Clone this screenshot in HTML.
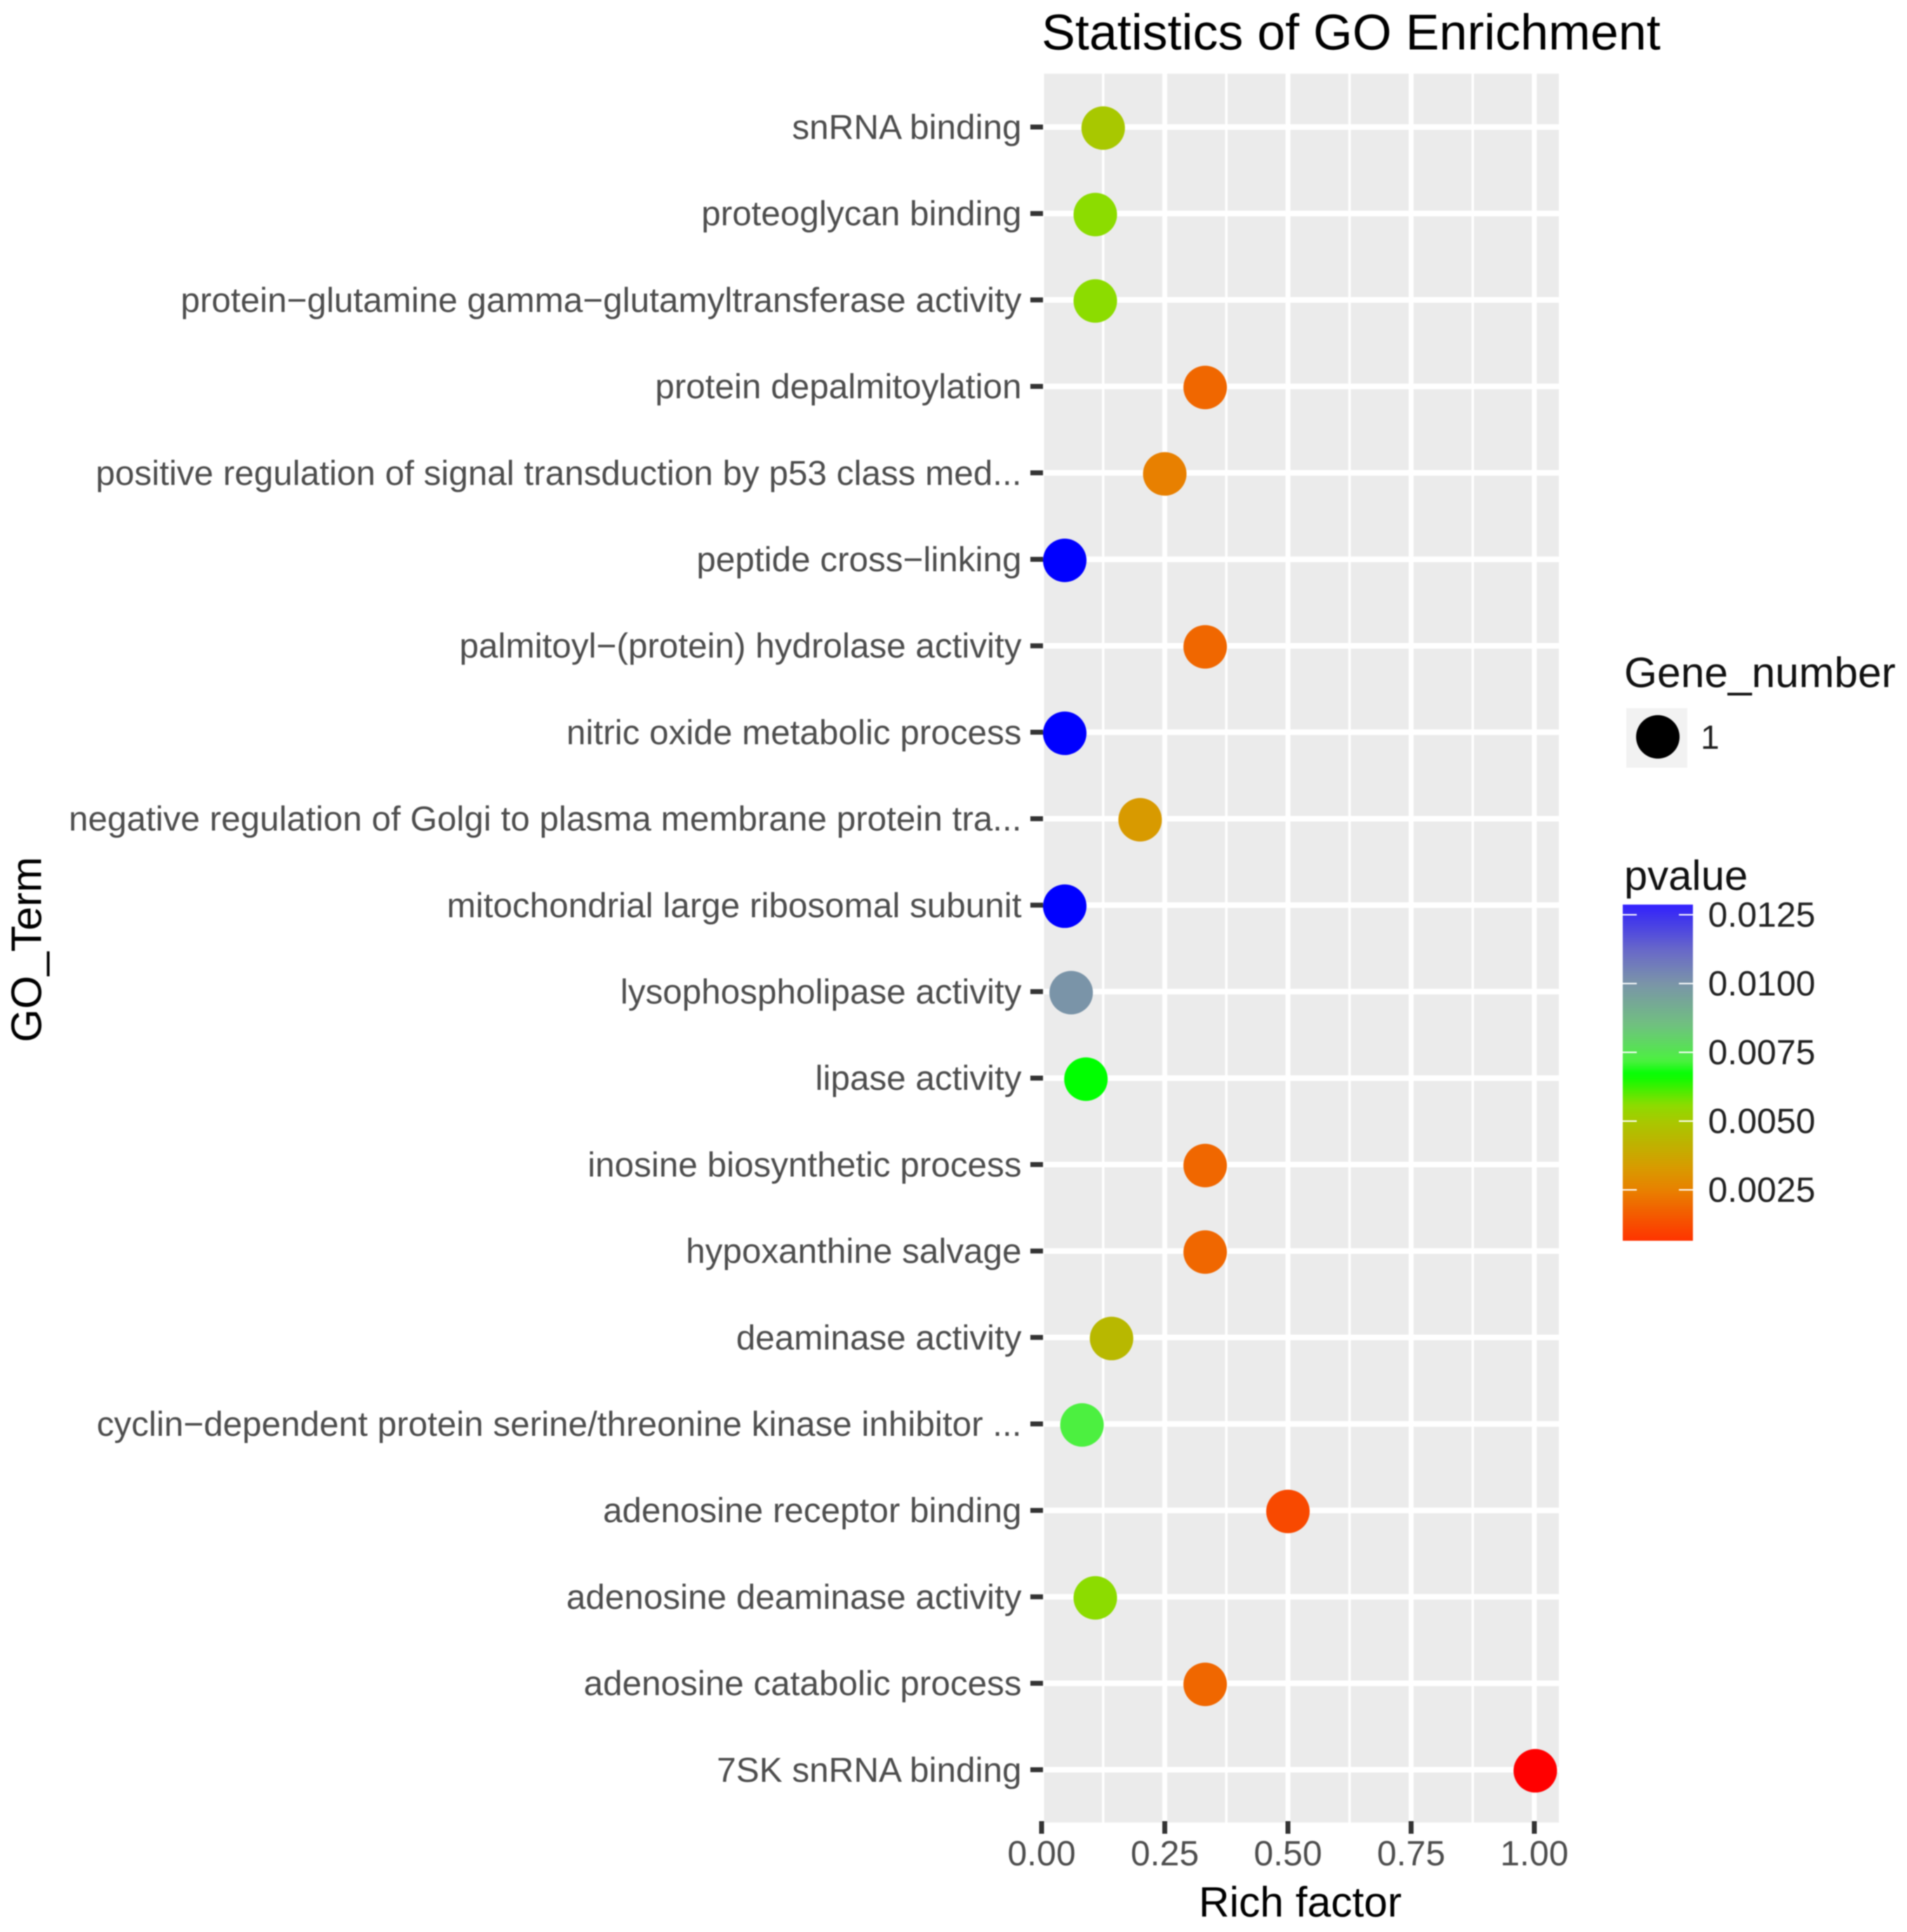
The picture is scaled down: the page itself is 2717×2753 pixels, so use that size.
<!DOCTYPE html>
<html lang="en">
<head>
<meta charset="utf-8">
<title>Statistics of GO Enrichment</title>
<style>
  html, body { margin: 0; padding: 0; background: #ffffff; }
  svg { display: block; font-family: "Liberation Sans", Arial, sans-serif; text-rendering: geometricPrecision; filter: blur(0.7px); }
</style>
</head>
<body>
<svg id="chart" xmlns="http://www.w3.org/2000/svg" width="2717" height="2753" viewBox="0 0 2717 2753">
  <defs>
    <clipPath id="panel-clip"><rect x="1487.5" y="105" width="733.5" height="2492"></rect></clipPath>
    <linearGradient id="bar-gradient" x1="0" y1="1" x2="0" y2="0"></linearGradient>
  </defs>
  <rect x="0" y="0" width="2717" height="2753" fill="#ffffff"></rect>
  <text x="1484" y="70.5" font-size="71.8" fill="#000000">Statistics of GO Enrichment</text>
  <rect x="1487.5" y="105" width="733.5" height="2492" fill="#ebebeb"></rect>
  <g id="grid" clip-path="url(#panel-clip)"></g>
  <g id="y-axis"></g>
  <g id="x-axis"></g>
  <g id="points"></g>
  <text x="1852.5" y="2731" font-size="60.5" text-anchor="middle" fill="#000000">Rich factor</text>
  <text transform="translate(58.5 1353) rotate(-90)" font-size="61" text-anchor="middle" fill="#000000">GO_Term</text>
  <g>
    <text x="2314" y="979" font-size="60.5" fill="#111111">Gene_number</text>
    <rect x="2317" y="1009" width="87" height="85" fill="#f2f2f2"></rect>
    <circle cx="2362" cy="1050" r="31" fill="#000000"></circle>
    <text x="2423" y="1067" font-size="48" fill="#222222">1</text>
  </g>
  <g id="colour-legend">
    <text x="2314" y="1268" font-size="59.8" fill="#111111">pvalue</text>
    <rect x="2312" y="1289" width="100" height="479" fill="url(#bar-gradient)"></rect>
  </g>
</svg>
<script>
// Chart data
const terms = [
  "snRNA binding",
  "proteoglycan binding",
  "protein\u2212glutamine gamma\u2212glutamyltransferase activity",
  "protein depalmitoylation",
  "positive regulation of signal transduction by p53 class med...",
  "peptide cross\u2212linking",
  "palmitoyl\u2212(protein) hydrolase activity",
  "nitric oxide metabolic process",
  "negative regulation of Golgi to plasma membrane protein tra...",
  "mitochondrial large ribosomal subunit",
  "lysophospholipase activity",
  "lipase activity",
  "inosine biosynthetic process",
  "hypoxanthine salvage",
  "deaminase activity",
  "cyclin\u2212dependent protein serine/threonine kinase inhibitor ...",
  "adenosine receptor binding",
  "adenosine deaminase activity",
  "adenosine catabolic process",
  "7SK snRNA binding"
];
const richFactor = [0.125, 0.109, 0.109, 0.332, 0.25, 0.047, 0.332, 0.047, 0.2, 0.047, 0.06, 0.09, 0.332, 0.332, 0.142, 0.082, 0.5, 0.109, 0.332, 1.002];
const pvalue = [0.005, 0.0056, 0.0056, 0.0019, 0.0025, 0.013, 0.0019, 0.013, 0.0033, 0.013, 0.01, 0.0067, 0.0019, 0.0019, 0.0044, 0.0072, 0.0012, 0.0056, 0.0019, 0];
const xTickValues = [0, 0.25, 0.5, 0.75, 1];
const xTickLabels = ["0.00", "0.25", "0.50", "0.75", "1.00"];
const xMinorValues = [0.125, 0.375, 0.625, 0.875];
const pvalueTicks = [0.0125, 0.01, 0.0075, 0.005, 0.0025];
const pvalueTickLabels = ["0.0125", "0.0100", "0.0075", "0.0050", "0.0025"];
const colourDomain = [0, 0.00067, 0.0025, 0.0033, 0.0044, 0.005, 0.0056, 0.0067, 0.0072, 0.0085, 0.01, 0.0112, 0.0125, 0.01286, 0.013];
const colourRange = ["#ff0000", "#ff3300", "#e88000", "#d89a00", "#b8b800", "#a8c800", "#8cdc00", "#00ff00", "#4cf040", "#70c080", "#7a94a8", "#6868c8", "#3c30f0", "#3320ff", "#0000ff"];

// Scales
function xScale(v) { return 1484 + 702 * v; }
function yScale(i) { return 181 + 123.2 * i; }
function barScale(p) { return 1695.5 - (p - 0.0025) * 39200; }
function hexToRgb(h) { return [1, 3, 5].map(function (k) { return parseInt(h.substr(k, 2), 16); }); }
function colourScale(p) {
  const last = colourDomain.length - 1;
  if (p <= colourDomain[0]) return colourRange[0];
  if (p >= colourDomain[last]) return colourRange[last];
  let k = 0;
  while (p > colourDomain[k + 1]) k++;
  const t = (p - colourDomain[k]) / (colourDomain[k + 1] - colourDomain[k]);
  const a = hexToRgb(colourRange[k]);
  const b = hexToRgb(colourRange[k + 1]);
  return "rgb(" + a.map(function (c, n) { return Math.round(c + (b[n] - c) * t); }).join(",") + ")";
}

const NS = "http://www.w3.org/2000/svg";
function mk(tag, parent, attrs, text) {
  const el = document.createElementNS(NS, tag);
  Object.keys(attrs).forEach(function (k) { el.setAttribute(k, attrs[k]); });
  if (text !== undefined) el.textContent = text;
  parent.appendChild(el);
  return el;
}

const grid = document.getElementById("grid");
const yAxis = document.getElementById("y-axis");
const xAxis = document.getElementById("x-axis");
const points = document.getElementById("points");
const colourLegend = document.getElementById("colour-legend");
const barGradient = document.getElementById("bar-gradient");

// Minor vertical grid
xMinorValues.forEach(function (v) {
  const line = mk("line", grid, { x1: xScale(v), x2: xScale(v), y1: 105, y2: 2597, stroke: "#ffffff", "stroke-width": 3.5 });
  
  
});

// Major vertical grid, ticks and labels
xTickValues.forEach(function (v, i) {
  const line = mk("line", grid, { x1: xScale(v), x2: xScale(v), y1: 105, y2: 2597, stroke: "#ffffff", "stroke-width": 7 });
  
  
  const tick = mk("line", xAxis, { x1: xScale(v), x2: xScale(v), y1: 2595, y2: 2613, stroke: "#333333", "stroke-width": 7 });
  
  
  const label = mk("text", xAxis, { x: xScale(v), y: 2658, "font-size": 50, "text-anchor": "middle", fill: "#4d4d4d" }, xTickLabels[i]);
  
  
});

// Rows: horizontal grid, ticks, labels
terms.forEach(function (term, i) {
  const y = yScale(i);
  const line = mk("line", grid, { x1: 1487, x2: 2221, y1: y, y2: y, stroke: "#ffffff", "stroke-width": 8 });
  
  
  const tick = mk("line", yAxis, { x1: 1468, x2: 1486, y1: y, y2: y, stroke: "#333333", "stroke-width": 7 });
  
  
  const label = mk("text", yAxis, { x: 1455.5, y: y + 17, "font-size": 49.45, "text-anchor": "end", fill: "#4d4d4d" }, term);
  
  
});

// Points
terms.forEach(function (term, i) {
  const dot = mk("circle", points, { cx: xScale(richFactor[i]), cy: yScale(i) + 1.5, r: 31, fill: colourScale(pvalue[i]) });
  
  
  mk("title", dot, {}, term);
});

// Colour bar gradient
const barLow = 0.00067;
const barHigh = 0.01286;
for (let n = 0; n <= 60; n++) {
  const p = barLow + (barHigh - barLow) * n / 60;
  mk("stop", barGradient, { offset: (n / 60 * 100) + "%", "stop-color": colourScale(p) });
}

// Colour bar ticks and labels
pvalueTicks.forEach(function (p, i) {
  const y = barScale(p);
  const left = mk("line", colourLegend, { x1: 2312, x2: 2332, y1: y, y2: y, stroke: "#ffffff", "stroke-width": 2 });
  
  
  const right = mk("line", colourLegend, { x1: 2392, x2: 2412, y1: y, y2: y, stroke: "#ffffff", "stroke-width": 2 });
  
  
  const label = mk("text", colourLegend, { x: 2433.5, y: y + 17, "font-size": 50, fill: "#222222" }, pvalueTickLabels[i]);
  
  
});
</script>
</body>
</html>
